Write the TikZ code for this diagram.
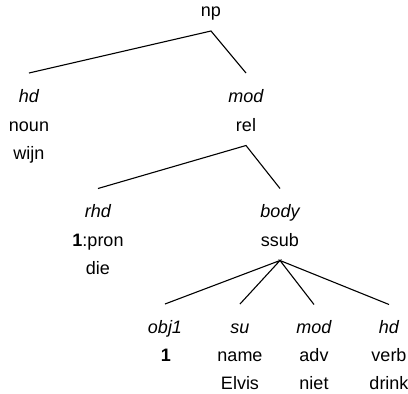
\documentclass[tikz,border=0pt]{standalone}
\usepackage{fontspec}
\setmainfont{Liberation Sans}
\usetikzlibrary{calc}
\begin{document}
\begin{tikzpicture}[x=1pt,y=-1pt,
  txt/.style={font=\fontsize{18}{20}\selectfont, inner sep=0pt, anchor=base},
  lbl/.style={font=\fontsize{18}{20}\selectfont\itshape, inner sep=0pt, anchor=base},
  edge/.style={line width=1.1pt}]
\useasboundingbox (0,0) rectangle (408,394);
% root
\node[txt] (np) at (211,16) {np};
% level 1
\node[lbl] (hdL) at (29,102) {hd};
\node[txt] (noun) at (29,131) {noun};
\node[txt] (wijn) at (29,159.5) {wijn};
\node[lbl] (modL) at (246,102) {mod};
\node[txt] (rel) at (246,131) {rel};
% level 2
\node[lbl] (rhdL) at (98,217) {rhd};
\node[txt] (pron) at (98,246) {\textbf{1}:pron};
\node[txt] (die) at (98,274) {die};
\node[lbl] (bodyL) at (280,217) {body};
\node[txt] (ssub) at (280,246) {ssub};
% level 3
\node[lbl] (objL) at (165,333.5) {obj1};
\node[txt] (one) at (166,361.5) {\textbf{1}};
\node[lbl] (suL) at (240,333.5) {su};
\node[txt] (name) at (240,361.5) {name};
\node[txt] (elvis) at (240,389.3) {Elvis};
\node[lbl] (mod2L) at (314,333.5) {mod};
\node[txt] (adv) at (314,361.5) {adv};
\node[txt] (niet) at (314,389.3) {niet};
\node[lbl] (hd2L) at (389,333.5) {hd};
\node[txt] (verb) at (389,361.5) {verb};
\node[txt] (drink) at (389,389.3) {drink};
% edges
\draw[edge] ($(hdL.base)+(0,-29)$) -- ($(np.base)+(0,15)$) -- ($(modL.base)+(0,-29)$);
\draw[edge] ($(rhdL.base)+(0,-28.5)$) -- ($(rel.base)+(0,14.5)$) -- ($(bodyL.base)+(0,-28.5)$);
\draw[edge] ($(objL.base)+(0,-29.5)$) -- ($(ssub.base)+(0,14.5)$) -- ($(suL.base)+(0,-29.5)$);
\draw[edge] ($(mod2L.base)+(0,-29)$) -- ($(ssub.base)+(0,14.5)$) -- ($(hd2L.base)+(0,-29)$);
\end{tikzpicture}
\end{document}
